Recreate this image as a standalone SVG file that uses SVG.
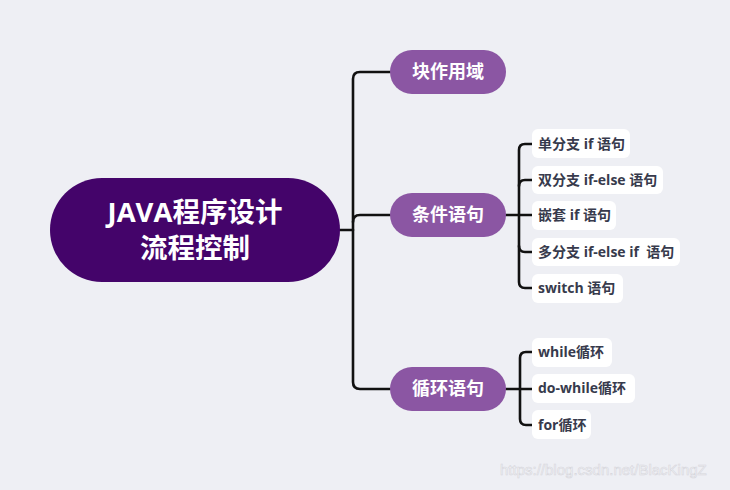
<svg xmlns="http://www.w3.org/2000/svg" width="730" height="490" viewBox="0 0 730 490">
<style>
.root{fill:#44046a}
.mid{fill:#8b56a3}
.leaf{fill:#ffffff}
.rt{font-family:"Open Sans","Noto Sans CJK SC",sans-serif;font-weight:bold;font-size:27.5px;fill:#ffffff;text-anchor:middle}
.mt{font-family:"Open Sans","Noto Sans CJK SC",sans-serif;font-weight:bold;font-size:18px;fill:#ffffff;text-anchor:middle}
.lt{font-family:"Open Sans","Noto Sans CJK SC",sans-serif;font-weight:bold;font-size:14px;fill:#373a4c}
.wm{font-family:"Liberation Sans",sans-serif;font-size:15px;fill:#f6f6f9;stroke:#d6d6dc;stroke-width:0.6}
#connectors path{fill:none;stroke:#111111;stroke-width:2.6;stroke-linecap:round;stroke-linejoin:round}
</style>
<rect width="730" height="490" fill="#eeeff4"/>
<g id="connectors">
<path d="M340,230 H353"/>
<path d="M390,72 H360 Q353,72 353,79 V382 Q353,389 360,389 H390"/>
<path d="M353,222 Q353,215 360,215 H390"/>
<path d="M506,215 H532"/>
<path d="M532,144 H525 Q519,144 519,150 V282 Q519,288 525,288 H532"/>
<path d="M519,186 Q519,180 525,180 H532"/>
<path d="M519,246 Q519,252 525,252 H532"/>
<path d="M506,389 H532"/>
<path d="M532,352 H526 Q520,352 520,358 V419 Q520,425 526,425 H532"/>
</g>
<g id="root"><rect class="root" x="50" y="178" width="290" height="104" rx="52"/>
<text class="rt" x="195" y="222">JAVA程序设计</text><text class="rt" x="195" y="258">流程控制</text></g>
<g id="n1"><rect class="mid" x="390" y="50" width="116" height="44" rx="22"/><text class="mt" x="448" y="78">块作用域</text></g>
<g id="n2"><rect class="mid" x="390" y="193" width="116" height="44" rx="22"/><text class="mt" x="448" y="221">条件语句</text></g>
<g id="n3"><rect class="mid" x="390" y="367" width="116" height="44" rx="22"/><text class="mt" x="448" y="395">循环语句</text></g>
<g id="l1"><rect class="leaf" x="532" y="129" width="98" height="29" rx="6"/><text class="lt" x="538" y="149">单分支 if 语句</text></g>
<g id="l2"><rect class="leaf" x="532" y="166" width="131" height="28" rx="6"/><text class="lt" x="538" y="185">双分支 if-else 语句</text></g>
<g id="l3"><rect class="leaf" x="532" y="201" width="84" height="29" rx="6"/><text class="lt" x="538" y="220">嵌套 if 语句</text></g>
<g id="l4"><rect class="leaf" x="532" y="238" width="148" height="28" rx="6"/><text class="lt" x="538" y="257" xml:space="preserve">多分支 if-else if  语句</text></g>
<g id="l5"><rect class="leaf" x="532" y="274" width="91" height="29" rx="6"/><text class="lt" x="538" y="293">switch 语句</text></g>
<g id="l6"><rect class="leaf" x="532" y="338" width="80" height="29" rx="6"/><text class="lt" x="538" y="357">while循环</text></g>
<g id="l7"><rect class="leaf" x="532" y="374" width="103" height="29" rx="6"/><text class="lt" x="538" y="393">do-while循环</text></g>
<g id="l8"><rect class="leaf" x="532" y="410" width="59" height="29" rx="6"/><text class="lt" x="538" y="430">for循环</text></g>
<text class="wm" x="500" y="475">https://blog.csdn.net/BlacKingZ</text>
</svg>
